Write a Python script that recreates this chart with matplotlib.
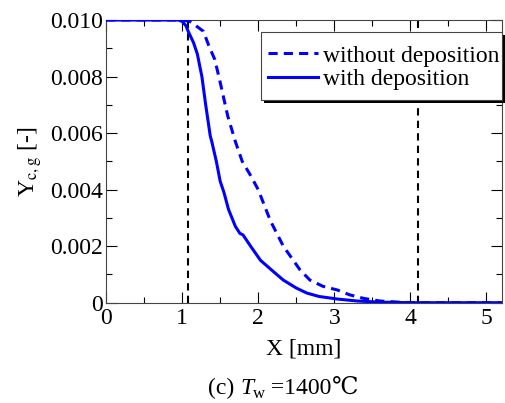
import matplotlib
matplotlib.use("Agg")
import matplotlib.pyplot as plt
from matplotlib.ticker import MultipleLocator
from matplotlib.patches import Rectangle

plt.rcParams['font.family'] = ['Liberation Serif', 'DejaVu Serif']
plt.rcParams['mathtext.fontset'] = 'stix'

# with deposition (solid)
x_with = [0, 0.95, 1.0, 1.05, 1.08, 1.15, 1.2, 1.26, 1.31, 1.37, 1.39, 1.45, 1.5, 1.55, 1.61, 1.7, 1.76, 1.8,
          1.9, 2.03, 2.2, 2.33, 2.5, 2.64, 2.8, 3.04, 3.3, 3.6, 4.0, 5.2]
y_with = [0.0100, 0.0100, 0.00995, 0.0098, 0.0096, 0.0092, 0.0088, 0.0080, 0.0070, 0.0059, 0.0057, 0.0050,
          0.0043, 0.0039, 0.0033, 0.0027, 0.00245, 0.0024, 0.0020, 0.0015, 0.0011, 0.0008, 0.00052, 0.00034,
          0.00022, 0.00013, 0.00006, 0.00002, 0.0, 0.0]

# without deposition (dashed)
x_wo = [0, 1.0, 1.1, 1.18, 1.28, 1.35, 1.43, 1.5, 1.6, 1.7, 1.79, 1.9, 2.0, 2.16, 2.33, 2.55, 2.68, 2.85,
        3.04, 3.2, 3.39, 3.6, 3.9, 4.2, 5.2]
y_wo = [0.0100, 0.0100, 0.00995, 0.0098, 0.0096, 0.0091, 0.0086, 0.0078, 0.0066, 0.0057, 0.0050, 0.0045,
        0.0040, 0.0029, 0.0020, 0.00116, 0.0008, 0.00058, 0.00045, 0.00028, 0.00015, 0.00006, 0.00001, 0.0, 0.0]

vlines_x = [1.08, 4.1]
series_labels = ['without deposition', 'with deposition']

W, H = 505, 403
fig = plt.figure(figsize=(W / 100, H / 100), dpi=100)
ax = fig.add_axes([106 / W, 1 - 302.7 / H, (501.7 - 106) / W, (302.7 - 20) / H])

for xv in vlines_x:
    ax.plot([xv, xv], [0, 0.01], color='black', linestyle=(0, (3.5, 2.5)), linewidth=1.5, zorder=2)

l1, = ax.plot(x_wo, y_wo, color='#0000ff', linestyle=(0, (3, 2)), linewidth=2.2, zorder=3)
l2, = ax.plot(x_with, y_with, color='#0000ff', linestyle='-', linewidth=2.2, zorder=3)

ax.set_xlim(0, 5.2)
ax.set_ylim(0, 0.010)
ax.set_yticks([0, 0.002, 0.004, 0.006, 0.008, 0.010])
ax.set_yticklabels(['0', '0.002', '0.004', '0.006', '0.008', '0.010'])
ax.set_xticks([0, 1, 2, 3, 4, 5])
ax.set_xticklabels(['0', '1', '2', '3', '4', '5'])
ax.xaxis.set_minor_locator(MultipleLocator(0.5))
ax.yaxis.set_minor_locator(MultipleLocator(0.001))
ax.tick_params(which='both', direction='in', top=True, right=True, labelsize=17)
ax.tick_params(axis='y', pad=2)
ax.tick_params(axis='x', pad=4)
ax.tick_params(which='major', length=8, width=0.8)
ax.tick_params(which='minor', length=4, width=0.8)
for s in ax.spines.values():
    s.set_linewidth(0.8)
    s.set_color('#444444')

ax.set_xlabel('X [mm]', fontsize=17, labelpad=7)
ax.set_ylabel(r'Y$_{\mathrm{c,g}}$ [-]', fontsize=17)
ax.yaxis.set_label_coords(-0.157, 0.5)

# legend frame with shadow (figure pixels)
bx0, bx1, by0, by1 = 261, 502, 31.5, 100
fig.add_artist(Rectangle(((bx0 + 3) / W, 1 - (by1 + 3.5) / H), (bx1 - bx0) / W, (by1 - by0) / H,
                         transform=fig.transFigure, facecolor='black', edgecolor='none', zorder=4))
fig.add_artist(Rectangle((bx0 / W, 1 - by1 / H), (bx1 - bx0) / W, (by1 - by0) / H,
                         transform=fig.transFigure, facecolor='white', edgecolor='#444444',
                         linewidth=0.8, zorder=4.5))
leg = fig.legend([l1, l2], series_labels, loc='upper left', bbox_to_anchor=(267.5 / W, 1 - 45 / H),
                 fontsize=17, frameon=False, borderpad=0, labelspacing=0.1, handlelength=2.12,
                 handletextpad=0.24, borderaxespad=0)
leg.set_zorder(5)

# caption built from pieces
renderer = fig.canvas.get_renderer()
base_y = 1 - 394 / H
pieces = [
    ('(c) ', dict(fontsize=17), 0),
    ('T', dict(fontsize=17, style='italic'), 0),
    ('w', dict(fontsize=12), -4),
    (' =1400', dict(fontsize=17), 0),
    ('℃', dict(fontsize=17, family=['Liberation Serif', 'DejaVu Serif', 'Noto Sans CJK JP']), 0),
]
texts = []
xpix = 0.0
for s, kw, dy in pieces:
    t = fig.text(xpix / W, base_y + dy / H, s, ha='left', va='baseline', **kw)
    bb = t.get_window_extent(renderer)
    texts.append((t, xpix, dy))
    xpix += bb.width
total = xpix
x_start = 283 - total / 2
for t, xp, dy in texts:
    t.set_x((x_start + xp) / W)

fig.savefig('out.png', dpi=100)
